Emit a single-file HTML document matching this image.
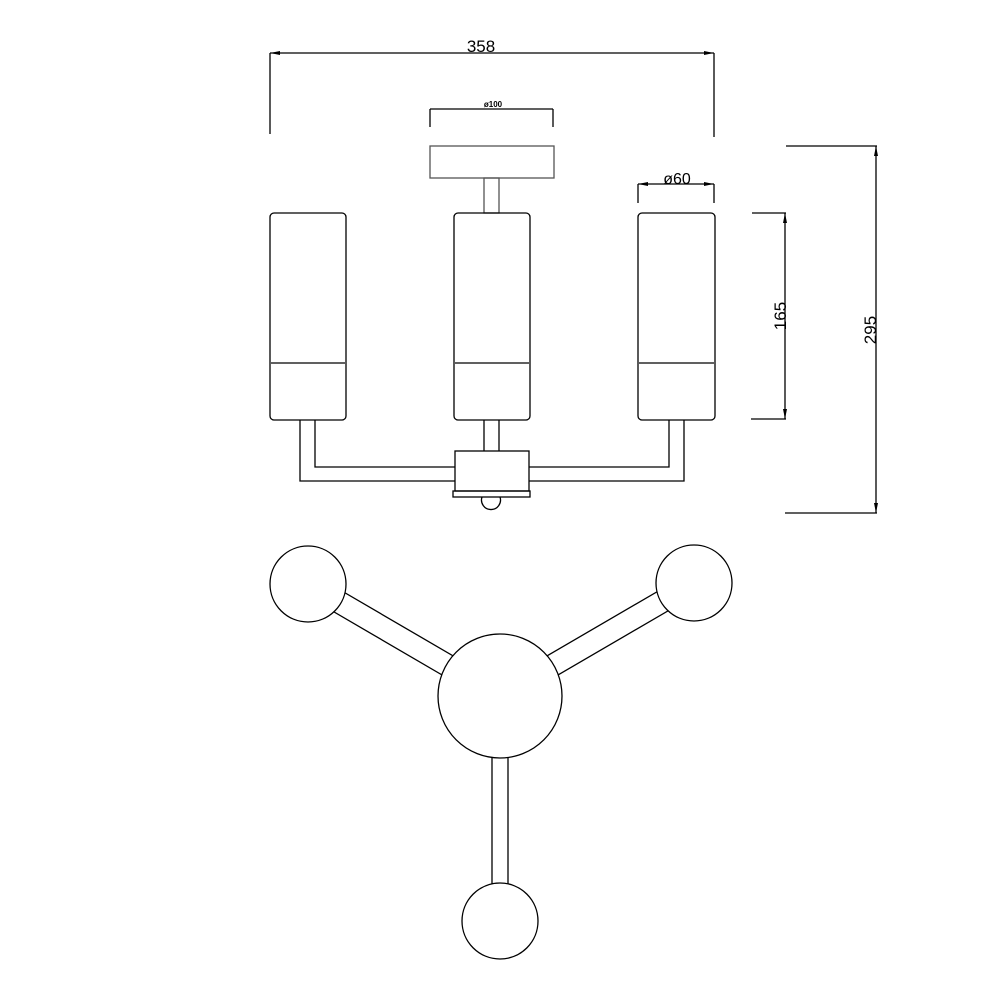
<!DOCTYPE html>
<html><head><style>body{margin:0;background:#fff}svg{display:block}</style></head><body>
<svg width="1000" height="1000" viewBox="0 0 1000 1000" xmlns="http://www.w3.org/2000/svg">
<defs>
<marker id="a" viewBox="0 0 10 4" refX="10" refY="2" markerWidth="10" markerHeight="4" orient="auto-start-reverse" markerUnits="userSpaceOnUse"><path d="M0,0L10,2L0,4z" fill="#000"/></marker>
</defs>
<g stroke="#000" stroke-width="1.3" fill="none" font-family="Liberation Sans, sans-serif">
<!-- dim 358 -->
<line x1="270" y1="53" x2="714" y2="53" marker-start="url(#a)" marker-end="url(#a)"/>
<line x1="270" y1="53" x2="270" y2="134"/><line x1="714" y1="53" x2="714" y2="137"/>
<text x="481" y="52" font-size="17" text-anchor="middle" fill="#000" stroke="none">358</text>
<!-- dim 100 -->
<line x1="430" y1="109" x2="553" y2="109"/>
<line x1="430" y1="109" x2="430" y2="127"/><line x1="553" y1="109" x2="553" y2="127"/>
<text x="493" y="107" font-size="8" font-weight="bold" text-anchor="middle" fill="#000" stroke="none">ø100</text>
<!-- dim 60 -->
<line x1="638" y1="184" x2="714" y2="184" marker-start="url(#a)" marker-end="url(#a)"/>
<line x1="638" y1="184" x2="638" y2="203"/><line x1="714" y1="184" x2="714" y2="203"/>
<text x="677" y="184" font-size="16" text-anchor="middle" fill="#000" stroke="none">ø60</text>
<!-- dim 165 -->
<line x1="785" y1="213" x2="785" y2="419" marker-start="url(#a)" marker-end="url(#a)"/>
<line x1="752" y1="213" x2="786" y2="213"/><line x1="751" y1="419" x2="786" y2="419"/>
<text transform="translate(786,316) rotate(-90)" font-size="17" text-anchor="middle" fill="#000" stroke="none">165</text>
<!-- dim 295 -->
<line x1="876" y1="146" x2="876" y2="513" marker-start="url(#a)" marker-end="url(#a)"/>
<line x1="786" y1="146" x2="877" y2="146"/><line x1="785" y1="513" x2="877" y2="513"/>
<text transform="translate(876,330) rotate(-90)" font-size="17" text-anchor="middle" fill="#000" stroke="none">295</text>

<!-- ceiling plate -->
<rect x="430" y="146" width="124" height="32" stroke="#555"/>
<rect x="484" y="178" width="15" height="35" stroke="#555"/>
<!-- shades -->
<rect x="270" y="213" width="76" height="207" rx="4"/><line x1="271" y1="363" x2="345" y2="363"/>
<rect x="454" y="213" width="76" height="207" rx="4"/><line x1="455" y1="363" x2="529" y2="363"/>
<rect x="638" y="213" width="77" height="207" rx="4"/><line x1="639" y1="363" x2="714" y2="363"/>
<!-- arms -->
<path d="M300,420V481H455M315,420V467H455" />
<path d="M684,420V481H529M669,420V467H529" />
<path d="M484,420V451M499,420V451"/>
<rect x="455" y="451" width="74" height="40"/>
<rect x="453" y="491" width="77" height="6"/>
<path d="M482,497A9.5,9.5 0 1 0 500,497"/>

<!-- bottom view -->
<line x1="311" y1="573" x2="503" y2="685"/>
<line x1="305" y1="595" x2="497" y2="707"/>
<line x1="691" y1="572" x2="497" y2="685"/>
<line x1="697" y1="594" x2="503" y2="707"/>
<line x1="492" y1="700" x2="492" y2="921"/>
<line x1="508" y1="700" x2="508" y2="921"/>
<circle cx="308" cy="584" r="38" fill="#fff"/>
<circle cx="694" cy="583" r="38" fill="#fff"/>
<circle cx="500" cy="696" r="62" fill="#fff"/>
<circle cx="500" cy="921" r="38" fill="#fff"/>
</g>
</svg>
</body></html>
